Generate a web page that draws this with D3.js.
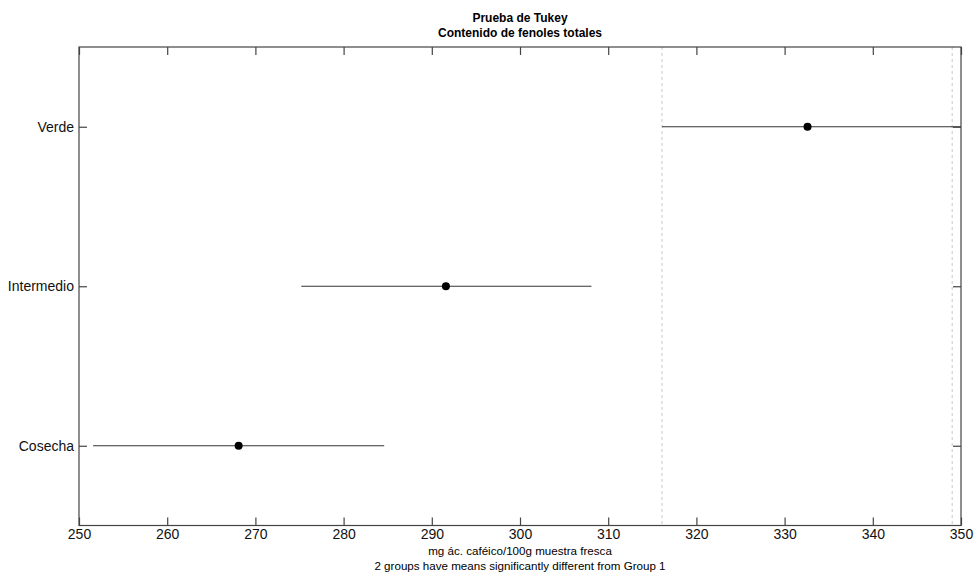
<!DOCTYPE html>
<html lang="es">
<head><meta charset="utf-8">
<title>Prueba de Tukey</title>
<style>
body { margin: 0; background: #fff; font-family: "Liberation Sans", Arial, sans-serif; }
.tick text { font-family: "Liberation Sans", Arial, sans-serif; }
</style>
</head>
<body>
<svg></svg>
<script src="https://d3js.org/d3.v7.min.js"></script>
<script>

// datos
var groups = ["Cosecha", "Intermedio", "Verde"];
var means  = [268.1, 291.6, 332.6];
var lower  = [251.6, 275.2, 316.1];
var upper  = [284.6, 308.1, 350.0];
var refLines = [316.1, 349.0];
var xTicks = [250, 260, 270, 280, 290, 300, 310, 320, 330, 340, 350];

var width = 975, height = 573;
var margin = {top: 47, right: 14, bottom: 47.5, left: 79};

var svg = d3.select("svg")
    .attr("width", width)
    .attr("height", height);

var x = d3.scaleLinear()
    .domain([250, 350])
    .range([margin.left, width - margin.right]);

var y = d3.scalePoint()
    .domain(groups)
    .range([height - margin.bottom, margin.top])
    .padding(0.5);

svg.append("clipPath").attr("id", "clip")
  .append("rect")
    .attr("x", margin.left).attr("y", margin.top)
    .attr("width", x(350) - x(250))
    .attr("height", height - margin.bottom - margin.top);

// lineas de referencia punteadas
svg.append("g")
    .selectAll("line")
    .data(refLines)
  .enter().append("line")
    .attr("x1", d => x(d)).attr("x2", d => x(d))
    .attr("y1", margin.top).attr("y2", height - margin.bottom)
    .attr("stroke", "#c8c8c8")
    .attr("stroke-dasharray", "3,3");

// intervalos
var plot = svg.append("g").attr("clip-path", "url(#clip)");
plot.selectAll("line.ci")
    .data(groups)
  .enter().append("line")
    .attr("class", "ci")
    .attr("x1", (d, i) => x(lower[i]))
    .attr("x2", (d, i) => x(upper[i]))
    .attr("y1", d => y(d)).attr("y2", d => y(d))
    .attr("stroke", "#333")
    .attr("stroke-width", 1.2);

plot.selectAll("circle")
    .data(groups)
  .enter().append("circle")
    .attr("cx", (d, i) => x(means[i]))
    .attr("cy", d => y(d))
    .attr("r", 4)
    .attr("fill", "#000");

function styleAxis(g) {
  g.select(".domain").remove();
  g.selectAll(".tick line").attr("stroke", "#444").attr("stroke-width", 1.2);
  g.selectAll(".tick text").attr("fill", "#111").style("font-size", "14px");
}

// ejes con marcas hacia adentro
svg.append("g")
    .attr("transform", "translate(0," + (height - margin.bottom) + ")")
    .call(d3.axisBottom(x).tickValues(xTicks).tickSize(-8).tickPadding(4))
    .call(styleAxis);

svg.append("g")
    .attr("transform", "translate(0," + margin.top + ")")
    .call(d3.axisTop(x).tickValues(xTicks).tickSize(-8).tickFormat(""))
    .call(styleAxis);

svg.append("g")
    .attr("transform", "translate(" + margin.left + ",0)")
    .call(d3.axisLeft(y).tickSize(-8).tickPadding(5))
    .call(styleAxis);

svg.append("g")
    .attr("transform", "translate(" + (width - margin.right) + ",0)")
    .call(d3.axisRight(y).tickSize(-8).tickFormat(""))
    .call(styleAxis);

// marco
svg.append("rect")
    .attr("x", margin.left).attr("y", margin.top)
    .attr("width", x(350) - x(250))
    .attr("height", height - margin.bottom - margin.top)
    .attr("fill", "none")
    .attr("stroke", "#444")
    .attr("stroke-width", 1.2);

var cx = (x(250) + x(350)) / 2;

svg.append("text")
    .attr("x", cx).attr("y", 22)
    .attr("text-anchor", "middle")
    .style("font-size", "12px").style("font-weight", "bold")
    .text("Prueba de Tukey");
svg.append("text")
    .attr("x", cx).attr("y", 37)
    .attr("text-anchor", "middle")
    .style("font-size", "12px").style("font-weight", "bold")
    .text("Contenido de fenoles totales");

svg.append("text")
    .attr("x", cx).attr("y", 555)
    .attr("text-anchor", "middle")
    .style("font-size", "11.6px")
    .text("mg ác. caféico/100g muestra fresca");
svg.append("text")
    .attr("x", cx).attr("y", 570)
    .attr("text-anchor", "middle")
    .style("font-size", "11.6px")
    .text("2 groups have means significantly different from Group 1");

</script>
</body>
</html>
